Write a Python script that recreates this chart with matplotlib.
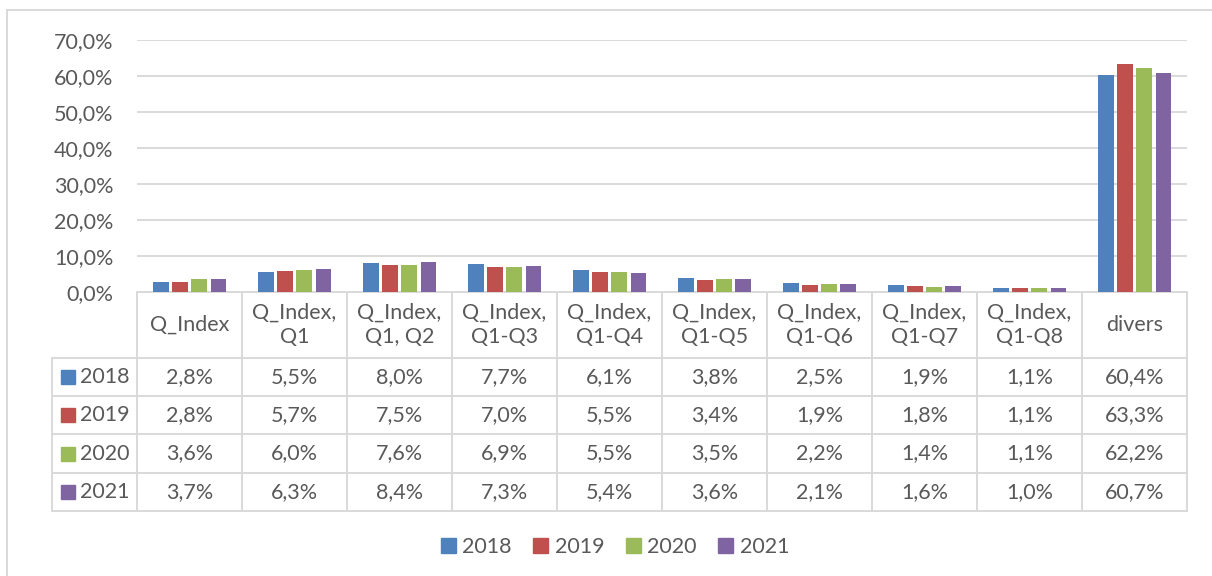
import matplotlib.pyplot as plt
from matplotlib.patches import Patch
from matplotlib.lines import Line2D
import numpy as np

plt.rcParams['font.family'] = ['Lato', 'DejaVu Sans']

# data
categories = ['Q_Index', 'Q_Index,\nQ1', 'Q_Index,\nQ1, Q2', 'Q_Index,\nQ1-Q3', 'Q_Index,\nQ1-Q4',
              'Q_Index,\nQ1-Q5', 'Q_Index,\nQ1-Q6', 'Q_Index,\nQ1-Q7', 'Q_Index,\nQ1-Q8', 'divers']
years = ['2018', '2019', '2020', '2021']
v2018 = [2.8, 5.5, 8.0, 7.7, 6.1, 3.8, 2.5, 1.9, 1.1, 60.4]
v2019 = [2.8, 5.7, 7.5, 7.0, 5.5, 3.4, 1.9, 1.8, 1.1, 63.3]
v2020 = [3.6, 6.0, 7.6, 6.9, 5.5, 3.5, 2.2, 1.4, 1.1, 62.2]
v2021 = [3.7, 6.3, 8.4, 7.3, 5.4, 3.6, 2.1, 1.6, 1.0, 60.7]
series = [v2018, v2019, v2020, v2021]
colors = ['#4F81BD', '#C0504D', '#9BBB59', '#8064A2']

W, H = 1212, 576
txt = '#595959'
grid_c = '#D9D9D9'
fs = 15.5

fig = plt.figure(figsize=(W / 100, H / 100), dpi=100, facecolor='white')


def fx(px):
    return px / W


def fy(py):
    return 1 - py / H


# plot area in pixels
x0, x1 = 137, 1187
y_top, y_bot = 40, 292
ax = fig.add_axes([fx(x0), fy(y_bot), fx(x1 - x0), (y_bot - y_top) / H])

n = len(categories)
x = np.arange(n)
pitch = 0.181
bw = 0.143
for i, (vals, c) in enumerate(zip(series, colors)):
    ax.bar(x + (i - 1.5) * pitch, vals, width=bw, color=c, zorder=3)

ax.set_xlim(-0.5, n - 0.5)
ax.set_ylim(0, 70)
ax.set_yticks(np.arange(0, 71, 10))
ax.set_yticklabels([f'{v:.1f}%'.replace('.', ',') for v in np.arange(0, 71, 10)],
                   color=txt, fontsize=fs)
ax.set_xticks([])
ax.tick_params(axis='y', length=0, pad=17)
ax.grid(axis='y', color=grid_c, linewidth=1.4, zorder=0)
for s in ['top', 'right', 'left']:
    ax.spines[s].set_visible(False)
ax.spines['bottom'].set_color(grid_c)
ax.spines['bottom'].set_linewidth(1.4)

# data table
col_w = (x1 - x0) / n
left_edge = 52
row_lines = [358, 396, 434, 473, 511]
lkw = dict(color=grid_c, linewidth=1.4, transform=fig.transFigure)

# horizontal lines
for ry in row_lines:
    fig.add_artist(Line2D([fx(left_edge), fx(x1)], [fy(ry), fy(ry)], **lkw))
# vertical lines
for k in range(n + 1):
    cx = x0 + k * col_w
    fig.add_artist(Line2D([fx(cx), fx(cx)], [fy(y_bot), fy(row_lines[-1])], **lkw))
fig.add_artist(Line2D([fx(left_edge), fx(left_edge)], [fy(row_lines[0]), fy(row_lines[-1])], **lkw))

# header labels
for k, cat in enumerate(categories):
    cx = x0 + (k + 0.5) * col_w
    fig.text(fx(cx), fy((y_bot + row_lines[0]) / 2), cat, ha='center', va='center',
             color=txt, fontsize=fs, linespacing=1.3)

# rows
for r, (yr, vals, c) in enumerate(zip(years, series, colors)):
    cy = (row_lines[r] + row_lines[r + 1]) / 2
    fig.patches.append(plt.Rectangle((fx(61), fy(cy + 7)), fx(14), 14 / H, color=c,
                                     transform=fig.transFigure))
    fig.text(fx(80), fy(cy), yr, ha='left', va='center', color=txt, fontsize=fs)
    for k, v in enumerate(vals):
        cx = x0 + (k + 0.5) * col_w
        fig.text(fx(cx), fy(cy), f'{v:.1f}%'.replace('.', ','), ha='center', va='center',
                 color=txt, fontsize=fs)

# legend
handles = [Patch(color=c, label=yr) for yr, c in zip(years, colors)]
fig.legend(handles=handles, loc='center', bbox_to_anchor=(fx(615), fy(547)), ncol=4,
           frameon=False, fontsize=fs, labelcolor=txt, handlelength=0.7, handleheight=0.7,
           handletextpad=0.3, columnspacing=1.0)

# chart border
fig.add_artist(Line2D([fx(7), fx(7)], [fy(10), 0], **lkw))
fig.add_artist(Line2D([fx(7), 1], [fy(10), fy(10)], **lkw))

fig.savefig('out.png', dpi=100, facecolor='white')
